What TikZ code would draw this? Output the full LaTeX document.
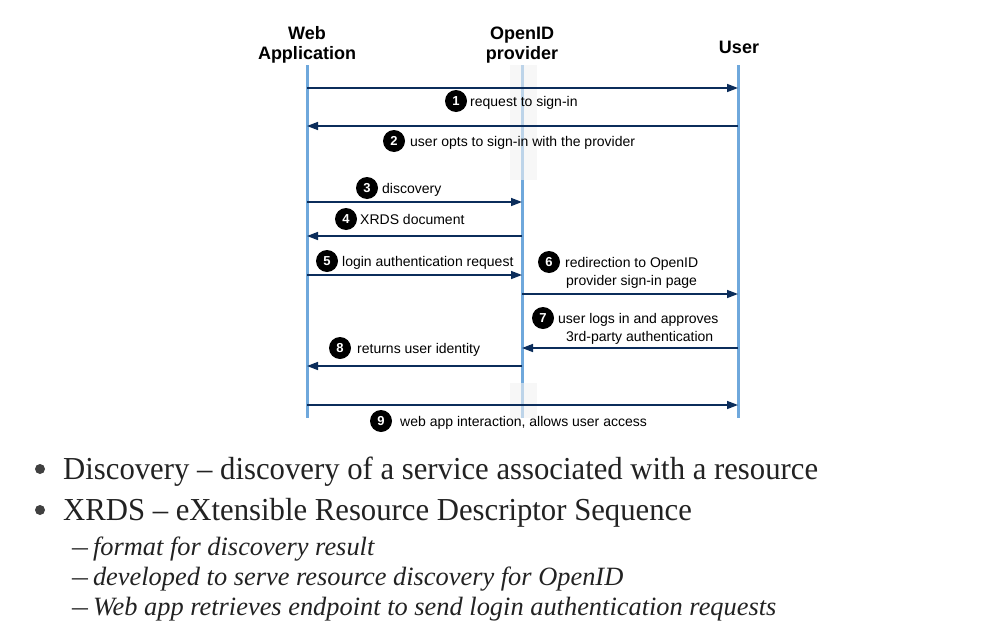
\documentclass[tikz,border=0pt]{standalone}
\usepackage{fontspec}
\setmainfont{Liberation Serif}
\setsansfont{Liberation Sans}
\usetikzlibrary{arrows.meta}
\definecolor{life}{HTML}{6FA8DC}
\definecolor{msg}{HTML}{0B2D5B}
\definecolor{txt}{HTML}{222222}
\definecolor{dotc}{HTML}{404040}
\tikzset{
  lifeline/.style={draw=life, line width=3pt},
  msgarrow/.style={draw=msg, line width=1.5pt, -{Triangle[length=11pt,width=8pt]}},
  badge/.style={circle, fill=black, text=white, inner sep=0pt, minimum size=22pt, font=\sffamily\bfseries\fontsize{13}{13}\selectfont},
  lbl/.style={anchor=base west, inner sep=0pt, font=\sffamily\fontsize{14}{16}\selectfont},
  head/.style={align=center, inner sep=0pt, font=\sffamily\bfseries\fontsize{18}{20}\selectfont},
  shade/.style={fill=gray!10, opacity=0.6, draw=none},
  bul/.style={anchor=base west, inner sep=0pt, text=txt, xscale=0.96, font=\rmfamily\fontsize{32}{34}\selectfont},
  sub/.style={anchor=base west, inner sep=0pt, text=txt, font=\rmfamily\itshape\fontsize{26.4}{28}\selectfont},
  dot/.style={circle, fill=dotc, inner sep=0pt, minimum size=10pt}
}
\newcommand{\subdash}{{\upshape\scalebox{1.2}[1]{--}}\hspace{5pt}}
\begin{document}
\begin{tikzpicture}[x=1pt,y=-1pt]
\useasboundingbox (0,0) rectangle (1001,629);
% headers
\node[head] (hw) at (307,45) {Web\\Application};
\node[head] (ho) at (522,45) {OpenID\\provider};
\node[head] (hu) at (739,47) {User};
% lifelines
\coordinate (wt) at (307,65); \coordinate (wb) at (307,418);
\coordinate (ot) at (522,65); \coordinate (ob) at (522,418);
\coordinate (ut) at (738,65); \coordinate (ub) at (738,418);
\draw[lifeline] (wt) -- (wb);
\draw[lifeline] (ot) -- (ob);
\draw[lifeline] (ut) -- (ub);
\fill[shade] (510,65) rectangle (537,180);
\fill[shade] (510,383) rectangle (537,418);
% endpoint coordinates
\coordinate (w1) at (307,88);  \coordinate (u1) at (738,88);
\coordinate (u2) at (738,126); \coordinate (w2) at (307,126);
\coordinate (w3) at (307,202); \coordinate (o3) at (522,202);
\coordinate (o4) at (522,236); \coordinate (w4) at (307,236);
\coordinate (w5) at (307,275); \coordinate (o5) at (522,275);
\coordinate (o6) at (522,294); \coordinate (u6) at (738,294);
\coordinate (u7) at (738,348); \coordinate (o7) at (522,348);
\coordinate (o8) at (522,366); \coordinate (w8) at (307,366);
\coordinate (w9) at (307,405); \coordinate (u9) at (738,405);
% messages
\draw[msgarrow] (w1) -- (u1);
\draw[msgarrow] (u2) -- (w2);
\draw[msgarrow] (w3) -- (o3);
\draw[msgarrow] (o4) -- (w4);
\draw[msgarrow] (w5) -- (o5);
\draw[msgarrow] (o6) -- (u6);
\draw[msgarrow] (u7) -- (o7);
\draw[msgarrow] (o8) -- (w8);
\draw[msgarrow] (w9) -- (u9);
% badges and labels
\node[badge] (b1) at (456,101) {1};
\node[lbl] (l1) at (470,106) {request to sign-in};
\node[badge] (b2) at (394,141) {2};
\node[lbl] (l2) at (410,146) {user opts to sign-in with the provider};
\node[badge] (b3) at (367,188) {3};
\node[lbl] (l3) at (382,193) {discovery};
\node[badge] (b4) at (346,219) {4};
\node[lbl] (l4) at (360,224) {XRDS document};
\node[badge] (b5) at (327,261) {5};
\node[lbl] (l5) at (342,266) {login authentication request};
\node[badge] (b6) at (549,262) {6};
\node[lbl] (l6a) at (565,267) {redirection to OpenID};
\node[lbl] (l6b) at (566,285) {provider sign-in page};
\node[badge] (b7) at (543,318) {7};
\node[lbl] (l7a) at (558,323) {user logs in and approves};
\node[lbl] (l7b) at (566,341) {3rd-party authentication};
\node[badge] (b8) at (340,348) {8};
\node[lbl] (l8) at (357,353) {returns user identity};
\node[badge] (b9) at (381,421) {9};
\node[lbl] (l9) at (400,426) {web app interaction, allows user access};
% bullets
\node[dot] (d1) at (40,469) {};
\node[bul] (t1) at (63,479) {Discovery -- discovery of a service associated with a resource};
\node[dot] (d2) at (40,510) {};
\node[bul] (t2) at (63,520) {XRDS -- eXtensible Resource Descriptor Sequence};
\node[sub] (s1) at (72,555) {\subdash format for discovery result};
\node[sub] (s2) at (72,585) {\subdash developed to serve resource discovery for OpenID};
\node[sub] (s3) at (72,615) {\subdash Web app retrieves endpoint to send login authentication requests};
\end{tikzpicture}
\end{document}
